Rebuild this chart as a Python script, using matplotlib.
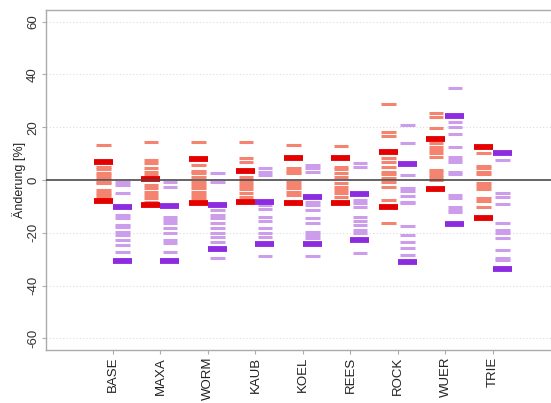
import matplotlib
matplotlib.use("Agg")
import matplotlib.pyplot as plt

plt.rcParams['font.family'] = ['Liberation Sans', 'DejaVu Sans']

stations = ["BASE", "MAXA", "WORM", "KAUB", "KOEL", "REES", "ROCK", "WUER", "TRIE"]

# Individual projections (light) and ensemble bounds (bold), change in percent
red_light = [
    [13.3, 5.0, 4.0, 2.8, 1.9, 0.6, -0.6, -1.3, -3.8, -4.8, -5.7, -6.9],
    [14.5, 7.6, 6.6, 4.4, 3.2, 1.9, -1.9, -3.2, -4.4, -5.7, -6.9, -8.2],
    [14.5, 5.7, 3.5, 2.5, 1.3, -0.6, -1.9, -3.2, -4.4, -5.7, -6.9],
    [14.5, 8.2, 6.9, 1.3, 0.0, -1.3, -2.3, -3.5, -4.8, -6.3],
    [13.3, 4.4, 3.5, 2.5, -0.6, -1.9, -3.2, -4.4, -5.7],
    [12.9, 5.0, 4.0, 2.5, 1.3, -1.3, -2.5, -3.8, -5.0, -6.3],
    [28.7, 18.1, 16.8, 8.2, 6.7, 5.0, 3.2, 2.2, 0.6, -0.6, -2.5, -7.6, -16.4],
    [25.2, 24.0, 19.6, 13.9, 12.6, 11.4, 10.1, 8.8, 3.8, 2.9, 1.9, 1.3, 0.0],
    [10.1, 5.3, 4.4, 3.2, 2.2, -1.3, -2.3, -3.5, -6.9, -7.8, -10.4],
]
red_bold = [
    [6.9, -8.0],
    [0.3, -9.5],
    [7.8, -8.8],
    [3.5, -8.2],
    [8.2, -8.6],
    [8.5, -8.8],
    [10.5, -10.1],
    [15.5, -3.5],
    [12.6, -14.3],
]
purple_light = [
    [-0.6, -1.9, -5.0, -13.3, -14.5, -17.0, -17.7, -19.6, -20.8, -22.7, -24.6, -27.1],
    [-0.6, -2.5, -13.9, -15.2, -16.4, -18.0, -20.2, -22.7, -24.0, -27.1],
    [2.5, -0.6, -11.4, -13.3, -14.5, -16.4, -18.3, -20.2, -21.5, -23.4, -29.7],
    [4.4, 3.2, 1.9, -9.5, -11.1, -14.1, -15.4, -18.3, -20.2, -21.5, -28.8],
    [5.7, 4.4, 3.2, -8.2, -9.5, -11.4, -14.5, -16.4, -19.6, -20.8, -22.1, -28.8],
    [6.3, 5.0, -7.6, -8.6, -10.4, -14.1, -15.4, -17.0, -18.9, -20.2, -27.8],
    [20.8, 13.9, 1.9, -3.2, -4.2, -5.9, -8.2, -8.8, -17.3, -20.8, -23.4, -25.9, -28.4],
    [34.7, 22.1, 20.0, 17.3, 12.6, 8.8, 7.6, 6.7, 3.2, 2.2, -5.7, -6.9, -10.1, -11.4, -12.2],
    [7.6, -5.0, -6.3, -9.1, -16.4, -18.9, -20.2, -22.1, -26.5, -29.4, -30.3],
]
purple_bold = [
    [-10.4, -30.7],
    [-9.8, -30.5],
    [-9.5, -26.1],
    [-8.2, -24.2],
    [-6.6, -24.4],
    [-5.3, -22.7],
    [6.2, -31.2],
    [24.2, -16.7],
    [10.1, -33.8],
]

yticks = [-60, -40, -20, 0, 20, 40, 60]

RED_LIGHT = "#F4846F"
RED_BOLD = "#E50000"
PUR_LIGHT = "#CC9DEB"
PUR_BOLD = "#8C2BE0"

fig = plt.figure(figsize=(5.51, 4.03), dpi=100)
ax = fig.add_axes([46 / 551, 53 / 403, 505 / 551, 340 / 403])

for y in [-60, -40, -20, 20, 40, 60]:
    ax.axhline(y, color="#DCDCDC", lw=0.8, ls=(0, (1, 2)), zorder=0)

off = 0.2
for i in range(len(stations)):
    xr, xp = i - off, i + off
    ax.hlines(red_light[i], xr - 0.15, xr + 0.15, color=RED_LIGHT, lw=2.2,
              capstyle="butt", zorder=2)
    ax.hlines(purple_light[i], xp - 0.15, xp + 0.15, color=PUR_LIGHT, lw=2.2,
              capstyle="butt", zorder=2)
    ax.hlines(red_bold[i], xr - 0.2, xr + 0.2, color=RED_BOLD, lw=4.2,
              capstyle="butt", zorder=3)
    ax.hlines(purple_bold[i], xp - 0.2, xp + 0.2, color=PUR_BOLD, lw=4.2,
              capstyle="butt", zorder=3)

ax.axhline(0, color="#4A4A4A", lw=1.2, zorder=4)

ax.set_xlim(-1.41, -1.41 + 505 / 47.5)
ax.set_ylim(-64.4, 64.4)
ax.set_xticks(range(len(stations)))
ax.set_xticklabels(stations, rotation=90, fontsize=9.5, color="#222222")
ax.set_yticks(yticks)
ax.set_yticklabels([str(t) for t in yticks], rotation=90, va="center",
                   fontsize=9.5, color="#333333")
ax.set_ylabel("Änderung [%]", fontsize=9, color="#222222", labelpad=1)
ax.tick_params(axis="both", length=3, color="#AAAAAA", pad=2)

for side in ["left", "bottom", "top"]:
    ax.spines[side].set_color("#AAAAAA")
    ax.spines[side].set_linewidth(1.0)
ax.spines["right"].set_visible(False)

fig.savefig("out.png", dpi=100)
